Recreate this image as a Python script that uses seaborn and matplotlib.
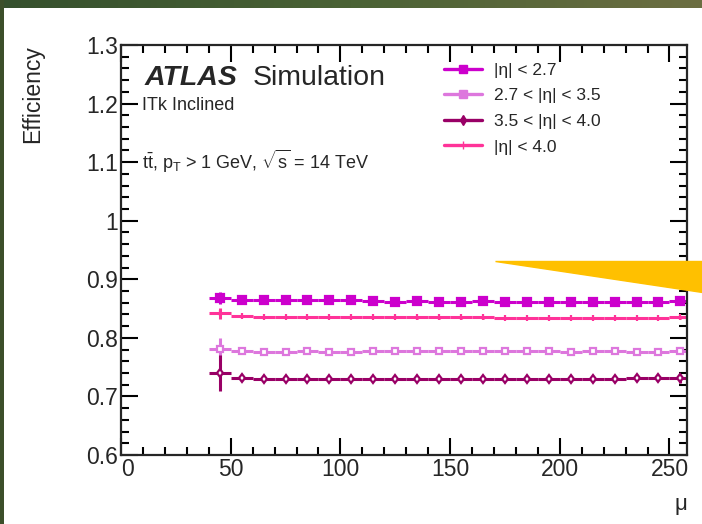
import numpy as np
import pandas as pd
import seaborn as sns
import matplotlib.pyplot as plt
from matplotlib.lines import Line2D
from matplotlib.patches import Polygon
from matplotlib.colors import LinearSegmentedColormap
from matplotlib.ticker import MultipleLocator, FormatStrFormatter

# pile-up bins (centres), bin half width 5
mu = [45, 55, 65, 75, 85, 95, 105, 115, 125, 135, 145,
      155, 165, 175, 185, 195, 205, 215, 225, 235, 245, 255]

eff_27 = [0.868, 0.865, 0.865, 0.864, 0.864, 0.865, 0.864, 0.863, 0.862, 0.863, 0.862,
          0.862, 0.863, 0.862, 0.862, 0.862, 0.862, 0.862, 0.862, 0.862, 0.861, 0.863]
eff_27_35 = [0.781, 0.778, 0.776, 0.776, 0.777, 0.776, 0.776, 0.777, 0.777, 0.777, 0.777,
             0.777, 0.777, 0.777, 0.777, 0.777, 0.776, 0.777, 0.777, 0.776, 0.775, 0.777]
eff_35_40 = [0.740, 0.731, 0.730, 0.729, 0.730, 0.730, 0.730, 0.730, 0.730, 0.730, 0.730,
             0.730, 0.730, 0.730, 0.730, 0.730, 0.730, 0.730, 0.730, 0.731, 0.731, 0.731]
eff_40 = [0.842, 0.837, 0.836, 0.836, 0.836, 0.836, 0.836, 0.836, 0.836, 0.835, 0.835,
          0.835, 0.835, 0.834, 0.834, 0.834, 0.834, 0.834, 0.834, 0.834, 0.834, 0.835]

err_27 = [0.010] + [0.002] * 21
err_27_35 = [0.018] + [0.003] * 21
err_35_40 = [0.030] + [0.003] * 20 + [0.008]
err_40 = [0.009] + [0.002] * 21

labels = ["|η| < 2.7", "2.7 < |η| < 3.5", "3.5 < |η| < 4.0", "|η| < 4.0"]
colors = ["#cc00cc", "#dd77dd", "#990066", "#ff3399"]

series = [
    (eff_27, err_27, "s", colors[0], 5.5),
    (eff_27_35, err_27_35, "s", "white", 5),
    (eff_35_40, err_35_40, "d", "white", 4.5),
    (eff_40, err_40, "|", colors[3], 5),
]

sns.set_style("ticks")
plt.rcParams['font.family'] = ['Liberation Sans Narrow', 'Liberation Sans', 'DejaVu Sans']
plt.rcParams['mathtext.fontset'] = 'custom'
plt.rcParams['mathtext.rm'] = 'Liberation Sans'
plt.rcParams['mathtext.it'] = 'Liberation Sans:italic'

fig = plt.figure(figsize=(7.02, 5.24), dpi=100)
fig.patch.set_facecolor("white")
ax = fig.add_axes([121 / 702, 1 - 455 / 524, 566 / 702, 410 / 524])

handles = []
for (vals, err, mk, mfc, ms), col, lab in zip(series, colors, labels):
    df = pd.DataFrame({"mu": mu, "eff": vals})
    ax.errorbar(mu, vals, xerr=5, yerr=err, fmt="none", ecolor=col,
                elinewidth=2.2, capsize=0, zorder=2)
    sns.lineplot(data=df, x="mu", y="eff", ax=ax, color=col, linestyle="",
                 marker=mk, markersize=ms, markerfacecolor=mfc,
                 markeredgecolor=col, markeredgewidth=1.6, zorder=3)
    handles.append(Line2D([], [], color=col, lw=2.4, marker=mk, markersize=ms + 0.5,
                          markerfacecolor=col, markeredgecolor=col))

ax.set_xlim(0, 258)
ax.set_ylim(0.6, 1.3)
ax.xaxis.set_major_locator(MultipleLocator(50))
ax.xaxis.set_minor_locator(MultipleLocator(10))
ax.yaxis.set_major_locator(MultipleLocator(0.1))
ax.yaxis.set_minor_locator(MultipleLocator(0.02))
ax.yaxis.set_major_formatter(FormatStrFormatter("%g"))
ax.tick_params(which="both", direction="in", top=True, right=True, width=1.5,
               color="black", labelsize=16.5, pad=2)
ax.tick_params(which="major", length=12)
ax.tick_params(which="minor", length=6)
for s in ax.spines.values():
    s.set_linewidth(1.6)

ax.set_ylabel("Efficiency", loc="top", fontsize=16.5, family="Liberation Sans")
ax.yaxis.set_label_coords(-0.135, 1.0)
ax.set_xlabel("μ", loc="right", fontsize=16)
ax.xaxis.set_label_coords(1.0, -0.095)

ax.legend(handles=handles, labels=labels, loc="upper left", bbox_to_anchor=(0.543, 0.995),
          frameon=False, handlelength=2.2, handletextpad=0.7, labelspacing=0.6,
          prop={"family": "Liberation Sans", "size": 12.5})

ax.text(0.042, 0.902, "ATLAS", transform=ax.transAxes, fontsize=20.5, fontweight="bold",
        fontstyle="italic", family="Liberation Sans", va="baseline")
ax.text(0.232, 0.902, "Simulation", transform=ax.transAxes, fontsize=20.5,
        family="Liberation Sans", va="baseline")
ax.text(0.037, 0.841, "ITk Inclined", transform=ax.transAxes, fontsize=13,
        family="Liberation Sans", va="baseline")
ax.text(0.037, 0.697, r"$\mathrm{t\bar{t}}$, $\mathrm{p_T}$ > 1 GeV, $\sqrt{\mathrm{s}}$ = 14 TeV",
        transform=ax.transAxes, fontsize=13, family="Liberation Sans", va="baseline")

# slide frame: green strips at top and left
top = fig.add_axes([0, 1 - 8 / 524, 1, 8 / 524])
grad = np.linspace(0, 1, 256)[None, :]
cm = LinearSegmentedColormap.from_list("g", ["#35502d", "#4a6235", "#6c6e42"])
top.imshow(grad, aspect="auto", cmap=cm)
top.axis("off")
left = fig.add_axes([0, 0, 4 / 702, 1])
left.set_facecolor("#3c4f2a")
left.set_xticks([])
left.set_yticks([])
for s in left.spines.values():
    s.set_visible(False)

# yellow pointer overlay
fig.add_artist(Polygon([(495 / 702, 1 - 261 / 524), (1, 1 - 261 / 524), (1, 1 - 292 / 524)],
                       closed=True, transform=fig.transFigure, color="#ffc000", zorder=10))

# ROOT puts the "0" just right of the corner
fig.canvas.draw()
for t in ax.xaxis.get_major_ticks():
    if abs(t.get_loc()) < 1e-9:
        t.label1.set_horizontalalignment("left")

fig.savefig("out.png", dpi=100)
